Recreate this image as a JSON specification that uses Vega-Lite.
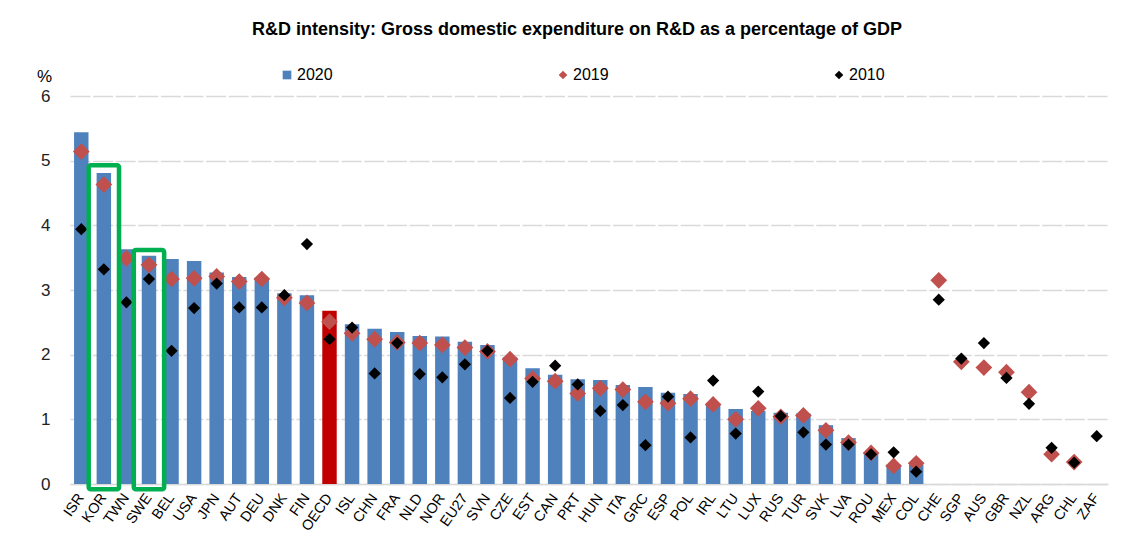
{
  "$schema": "https://vega.github.io/schema/vega-lite/v6.json",
  "width": 1038,
  "height": 388,
  "autosize": "none",
  "padding": {"left": 70, "top": 96, "right": 37, "bottom": 73},
  "background": "white",
  "config": {
    "font": "Liberation Sans",
    "view": {"stroke": null},
    "legend": {
      "orient": "none",
      "legendX": 209,
      "legendY": -29,
      "direction": "horizontal",
      "columnPadding": 222,
      "symbolSize": 75,
      "symbolStrokeWidth": 0,
      "labelFontSize": 16,
      "labelColor": "#000",
      "labelOffset": 2,
      "title": null
    }
  },
  "title": {
    "text": "R&D intensity: Gross domestic expenditure on R&D as a percentage of GDP",
    "fontSize": 18,
    "fontWeight": "bold",
    "color": "#000",
    "anchor": "middle",
    "dx": -12,
    "offset": 28
  },
  "data": {
    "values": [
      {"c": "ISR", "2020": 5.44, "2019": 5.14, "2010": 3.94},
      {"c": "KOR", "2020": 4.81, "2019": 4.63, "2010": 3.32},
      {"c": "TWN", "2020": 3.63, "2019": 3.49, "2010": 2.81},
      {"c": "SWE", "2020": 3.53, "2019": 3.39, "2010": 3.17},
      {"c": "BEL", "2020": 3.48, "2019": 3.17, "2010": 2.06},
      {"c": "USA", "2020": 3.45, "2019": 3.18, "2010": 2.72},
      {"c": "JPN", "2020": 3.27, "2019": 3.21, "2010": 3.10},
      {"c": "AUT", "2020": 3.20, "2019": 3.13, "2010": 2.73},
      {"c": "DEU", "2020": 3.19, "2019": 3.17, "2010": 2.73},
      {"c": "DNK", "2020": 2.95, "2019": 2.88, "2010": 2.92},
      {"c": "FIN", "2020": 2.92, "2019": 2.80, "2010": 3.71},
      {"c": "OECD", "2020": 2.68, "2019": 2.51, "2010": 2.24},
      {"c": "ISL", "2020": 2.47, "2019": 2.33, "2010": 2.42},
      {"c": "CHN", "2020": 2.40, "2019": 2.24, "2010": 1.71},
      {"c": "FRA", "2020": 2.35, "2019": 2.19, "2010": 2.18},
      {"c": "NLD", "2020": 2.29, "2019": 2.18, "2010": 1.70},
      {"c": "NOR", "2020": 2.28, "2019": 2.15, "2010": 1.65},
      {"c": "EU27", "2020": 2.20, "2019": 2.11, "2010": 1.85},
      {"c": "SVN", "2020": 2.15, "2019": 2.05, "2010": 2.06},
      {"c": "CZE", "2020": 1.96, "2019": 1.93, "2010": 1.33},
      {"c": "EST", "2020": 1.79, "2019": 1.63, "2010": 1.58},
      {"c": "CAN", "2020": 1.69, "2019": 1.59, "2010": 1.83},
      {"c": "PRT", "2020": 1.62, "2019": 1.40, "2010": 1.54},
      {"c": "HUN", "2020": 1.61, "2019": 1.48, "2010": 1.13},
      {"c": "ITA", "2020": 1.53, "2019": 1.46, "2010": 1.22},
      {"c": "GRC", "2020": 1.50, "2019": 1.27, "2010": 0.60},
      {"c": "ESP", "2020": 1.41, "2019": 1.25, "2010": 1.35},
      {"c": "POL", "2020": 1.39, "2019": 1.32, "2010": 0.72},
      {"c": "IRL", "2020": 1.23, "2019": 1.23, "2010": 1.60},
      {"c": "LTU", "2020": 1.16, "2019": 1.00, "2010": 0.78},
      {"c": "LUX", "2020": 1.13, "2019": 1.17, "2010": 1.43},
      {"c": "RUS", "2020": 1.10, "2019": 1.04, "2010": 1.05},
      {"c": "TUR", "2020": 1.09, "2019": 1.06, "2010": 0.80},
      {"c": "SVK", "2020": 0.91, "2019": 0.83, "2010": 0.61},
      {"c": "LVA", "2020": 0.71, "2019": 0.64, "2010": 0.61},
      {"c": "ROU", "2020": 0.47, "2019": 0.48, "2010": 0.46},
      {"c": "MEX", "2020": 0.30, "2019": 0.28, "2010": 0.49},
      {"c": "COL", "2020": 0.30, "2019": 0.32, "2010": 0.19},
      {"c": "CHE", "2020": null, "2019": 3.15, "2010": 2.85},
      {"c": "SGP", "2020": null, "2019": 1.89, "2010": 1.94},
      {"c": "AUS", "2020": null, "2019": 1.80, "2010": 2.18},
      {"c": "GBR", "2020": null, "2019": 1.73, "2010": 1.64},
      {"c": "NZL", "2020": null, "2019": 1.42, "2010": 1.24},
      {"c": "ARG", "2020": null, "2019": 0.46, "2010": 0.56},
      {"c": "CHL", "2020": null, "2019": 0.34, "2010": 0.33},
      {"c": "ZAF", "2020": null, "2019": null, "2010": 0.74}
    ]
  },
  "encoding": {
    "x": {
      "field": "c",
      "type": "nominal",
      "sort": null,
      "scale": {"paddingInner": 0.36, "paddingOuter": 0.18},
      "axis": {
        "title": null,
        "labelAngle": -55,
        "labelFontSize": 14.5,
        "labelColor": "#000",
        "labelPadding": 11,
        "ticks": false,
        "domain": true,
        "domainColor": "#d9d9d9",
        "domainWidth": 1.5,
        "grid": false
      }
    },
    "y": {
      "field": "value",
      "type": "quantitative",
      "scale": {"domain": [0, 6]},
      "axis": {
        "values": [0, 1, 2, 3, 4, 5, 6],
        "title": "%",
        "titleAngle": 0,
        "titleX": -26,
        "titleY": -20,
        "titleAlign": "center",
        "titleBaseline": "middle",
        "titleFontSize": 17,
        "titleFontWeight": "normal",
        "titleColor": "#000",
        "labelFontSize": 17,
        "labelColor": "#222",
        "labelPadding": 20,
        "ticks": false,
        "domain": false,
        "grid": true,
        "gridColor": "#d9d9d9",
        "gridWidth": 1.5,
        "gridDash": [20, 2.6]
      }
    }
  },
  "layer": [
    {
      "transform": [{"fold": ["2020", "2019", "2010"], "as": ["key", "value"]}, {"filter": "datum.key === '2020'"}],
      "mark": {"type": "bar"},
      "encoding": {
        "color": {
          "condition": {"test": "datum.c === 'OECD'", "value": "#C00000"},
          "field": "key",
          "type": "nominal",
          "scale": {"domain": ["2020", "2019", "2010"], "range": ["#4F81BD", "#C0504D", "#000000"]}
        }
      }
    },
    {
      "transform": [{"fold": ["2020", "2019", "2010"], "as": ["key", "value"]}, {"filter": "datum.key === '2019'"}],
      "mark": {"type": "point", "filled": true, "opacity": 1, "size": 280},
      "encoding": {
        "color": {"field": "key", "type": "nominal", "scale": {"domain": ["2020", "2019", "2010"], "range": ["#4F81BD", "#C0504D", "#000000"]}},
        "shape": {"field": "key", "type": "nominal", "scale": {"domain": ["2020", "2019", "2010"], "range": ["square", "diamond", "diamond"]}}
      }
    },
    {
      "transform": [{"fold": ["2020", "2019", "2010"], "as": ["key", "value"]}, {"filter": "datum.key === '2010'"}],
      "mark": {"type": "point", "filled": true, "opacity": 1, "size": 150},
      "encoding": {
        "color": {"field": "key", "type": "nominal", "scale": {"domain": ["2020", "2019", "2010"], "range": ["#4F81BD", "#C0504D", "#000000"]}},
        "shape": {"field": "key", "type": "nominal", "scale": {"domain": ["2020", "2019", "2010"], "range": ["square", "diamond", "diamond"]}}
      }
    },
    {
      "data": {"values": [{"c": "KOR", "top": 4.93, "bottom": -0.08}, {"c": "SWE", "top": 3.62, "bottom": -0.08}]},
      "mark": {"type": "rect", "filled": false, "stroke": "#00B050", "strokeWidth": 4.5, "cornerRadius": 2},
      "encoding": {
        "x": {"field": "c", "type": "nominal", "sort": null, "bandPosition": -0.55},
        "x2": {"field": "c", "bandPosition": 1.55},
        "y": {"field": "top", "type": "quantitative"},
        "y2": {"field": "bottom"}
      }
    }
  ]
}
